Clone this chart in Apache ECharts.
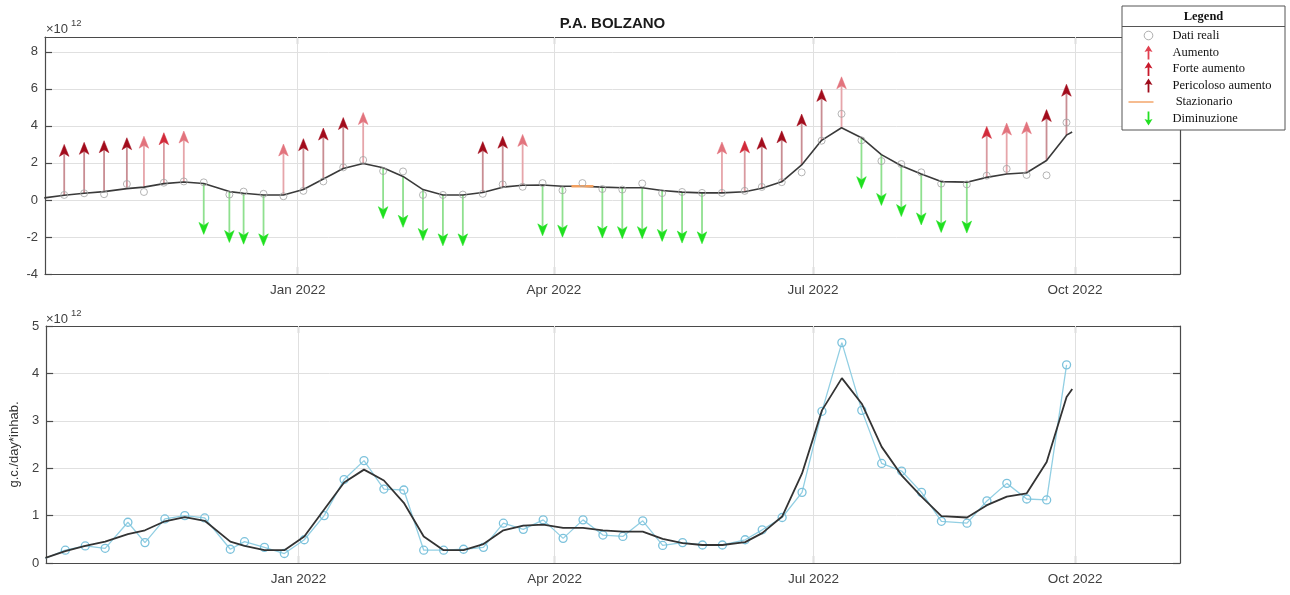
<!DOCTYPE html>
<html><head><meta charset="utf-8">
<script src="https://cdn.jsdelivr.net/npm/echarts@6/dist/echarts.min.js"></script>
<style>html,body{margin:0;padding:0;background:#fff}#c{width:1290px;height:595px}</style>
</head><body><div id="c"></div><script>
// ---------------- DATA ----------------
const dates = ['2021-10-04','2021-10-11','2021-10-18','2021-10-25','2021-11-02','2021-11-08','2021-11-15','2021-11-22','2021-11-29','2021-12-08','2021-12-13','2021-12-20','2021-12-27',
'2022-01-03','2022-01-10','2022-01-17','2022-01-24','2022-01-31','2022-02-07','2022-02-14','2022-02-21','2022-02-28','2022-03-07','2022-03-14','2022-03-21','2022-03-28',
'2022-04-04','2022-04-11','2022-04-18','2022-04-25','2022-05-02','2022-05-09','2022-05-16','2022-05-23','2022-05-30','2022-06-07','2022-06-13','2022-06-20','2022-06-27',
'2022-07-04','2022-07-11','2022-07-18','2022-07-25','2022-08-01','2022-08-08','2022-08-15','2022-08-24','2022-08-31','2022-09-07','2022-09-14','2022-09-21','2022-09-28'];
// measured values (x 10^12 g.c./day*inhab.)
const values = [0.10,0.27,0.36,0.31,0.86,0.43,0.93,1.00,0.95,0.29,0.45,0.33,0.20,
0.49,1.00,1.76,2.16,1.56,1.54,0.27,0.27,0.29,0.33,0.84,0.71,0.91,
0.52,0.91,0.59,0.56,0.89,0.37,0.43,0.38,0.38,0.49,0.70,0.96,1.49,
3.20,4.65,3.22,2.10,1.94,1.49,0.88,0.84,1.31,1.68,1.35,1.33,4.18];
// smoothed trend (x 10^12)
const trendDates = dates.concat(['2022-09-30']);
const trendValues = [0.11,0.25,0.36,0.45,0.61,0.69,0.88,0.97,0.89,0.45,0.36,0.27,0.27,
0.56,1.13,1.70,1.97,1.74,1.27,0.56,0.27,0.27,0.40,0.69,0.79,0.81,
0.74,0.74,0.69,0.66,0.66,0.51,0.42,0.38,0.38,0.44,0.63,0.98,1.89,
3.22,3.90,3.36,2.45,1.85,1.40,0.99,0.96,1.22,1.40,1.47,2.13,3.50,3.67];
// trend class per date: A=Aumento, F=Forte aumento, P=Pericoloso aumento, S=Stazionario, D=Diminuzione, ''=none
const trendClass = ['','P','P','P','P','A','F','A','D','D','D','D','A',
'P','P','P','A','D','D','D','D','D','P','P','A','D',
'D','S','D','D','D','D','D','D','A','F','P','P','P',
'P','A','D','D','D','D','D','D','F','A','A','P','P'];
const xTickDates = ['2022-01-01','2022-04-01','2022-07-01','2022-10-01'];
const monthNames = ['Jan','Feb','Mar','Apr','May','Jun','Jul','Aug','Sep','Oct','Nov','Dec'];

// ---------------- HELPERS ----------------
const ts = s => Date.UTC(+s.slice(0,4), +s.slice(5,7)-1, +s.slice(8,10));
const X_MIN = Date.UTC(2021,9,4,6), X_MAX = Date.UTC(2022,10,6,21);
const xTicks = xTickDates.map(ts);
const ARROW_LEN = 2.75; // arrow glyph length in y-units
const FONT = '"Liberation Sans", Arial, sans-serif';
const SERIF = '"Liberation Serif", "Times New Roman", serif';
const AXIS_COL = '#4a4a4a', LABEL_COL = '#404040', GRID_COL = '#e0e0e0';
const arrowStyles = {
  A:{head:'#e2737d', shaft:'#e6a5aa'},
  F:{head:'#d22a3a', shaft:'#d99aa0'},
  P:{head:'#a20c1c', shaft:'#c98d93'},
  D:{head:'#1fe01f', shaft:'#8fe08f'}
};

function arrowRenderer(st){
  return function(params, api){
    const x = api.value(0), y = api.value(1), d = api.value(2);
    const p0 = api.coord([x, y]);
    const p1 = api.coord([x, y + d*ARROW_LEN]);
    const s = p1[1] < p0[1] ? -1 : 1;
    const hl = 12, hw = 4.8, notch = 3;
    const baseY = p1[1] - s*hl;
    return {type:'group', children:[
      {type:'line', shape:{x1:p0[0], y1:p0[1], x2:p0[0], y2:baseY + s*notch}, style:{stroke:st.shaft, lineWidth:1.8}},
      {type:'polygon', shape:{points:[[p1[0],p1[1]],[p1[0]+hw,baseY],[p1[0],baseY+s*notch],[p1[0]-hw,baseY]]},
       style:{fill:st.head, stroke:st.head, lineWidth:0.5}}
    ]};
  };
}
function stationaryRenderer(params, api){
  const p = api.coord([api.value(0), api.value(1)]);
  return {type:'line', shape:{x1:p[0]-11, y1:p[1], x2:p[0]+11, y2:p[1]}, style:{stroke:'#f2a060', lineWidth:2.5}};
}
function classData(c){
  const out = [];
  dates.forEach((d,i)=>{ if (trendClass[i]===c) out.push([ts(d), trendValues[i], c==='D'?-1:(c==='S'?0:1)]); });
  return out;
}
const obs = dates.map((d,i)=>[ts(d), values[i]]);
const trend = trendDates.map((d,i)=>[ts(d), trendValues[i]]);

function xAxes(gi){
  const lbl = {customValues:xTicks, color:LABEL_COL, fontSize:13.5, fontFamily:FONT, margin:9,
    formatter:v=>{const t=new Date(v); return monthNames[t.getUTCMonth()]+' '+t.getUTCFullYear();}};
  const common = {type:'value', gridIndex:gi, min:X_MIN, max:X_MAX, scale:true, splitLine:{show:false},
    axisLine:{show:true, onZero:false, lineStyle:{color:AXIS_COL, width:1.2}},
    axisTick:{show:true, inside:true, length:7, customValues:xTicks, lineStyle:{color:AXIS_COL, width:1.2}}};
  return [
    Object.assign({}, common, {position:'bottom', axisLabel:lbl}),
    Object.assign({}, common, {position:'top', axisLabel:{show:false}})
  ];
}
function yAxes(gi, min, max, interval, showMax, extra){
  const common = {type:'value', gridIndex:gi, min, max, interval,
    axisLine:{show:true, onZero:false, lineStyle:{color:AXIS_COL, width:1.2}},
    axisTick:{show:true, inside:true, length:7, lineStyle:{color:AXIS_COL, width:1.2}}};
  return [
    Object.assign({}, common, {position:'left',
      axisLabel:{color:LABEL_COL, fontSize:13, fontFamily:FONT, margin:7, showMaxLabel:showMax, showMinLabel:true,
        formatter:v=>(Math.abs(v/interval - Math.round(v/interval))<1e-6 ? String(v) : '')},
      splitLine:{show:true, lineStyle:{color:GRID_COL, width:1}}}, extra||{}),
    Object.assign({}, common, {position:'right', axisLabel:{show:false}, splitLine:{show:false}})
  ];
}
const vGrid = {silent:true, z:1, symbol:['none','none'], label:{show:false}, emphasis:{disabled:true},
  lineStyle:{color:GRID_COL, type:'solid', width:1, opacity:1}, data:xTicks.map(t=>({xAxis:t}))};

// legend icons in a 40x14 frame (icon centre at x=21)
const ICON_BOUNDS = 'M0,0M40,14';
const upIcon = 'path://'+ICON_BOUNDS+'M21,0L25,6.5L21.9,5.6L21.9,14L20.1,14L20.1,5.6L17,6.5Z';
const downIcon = 'path://'+ICON_BOUNDS+'M21,14L25,7.5L21.9,8.4L21.9,0L20.1,0L20.1,8.4L17,7.5Z';
const circIcon = 'path://'+ICON_BOUNDS+'M25.3,7A4.3,4.3,0,1,1,16.7,7A4.3,4.3,0,1,1,25.3,7Z';
const lineIcon = 'path://'+ICON_BOUNDS+'M1,6.3L26,6.3L26,7.7L1,7.7Z';

const chart = echarts.init(document.getElementById('c'), null, {renderer:'canvas'});
chart.setOption({
  animation:false,
  backgroundColor:'#ffffff',
  grid:[
    {left:45, right:110, top:37, height:237},
    {left:45, right:110, top:326, height:237}
  ],
  xAxis:[...xAxes(0), ...xAxes(1)],
  yAxis:[...yAxes(0,-4,8.8,2,false), ...yAxes(1,0,5,1,true,{name:'g.c./day*inhab.', nameLocation:'middle', nameGap:21,
    nameTextStyle:{color:'#333', fontSize:13, fontFamily:FONT}})],
  legend:{
    orient:'vertical', left:1127, top:28, padding:0, itemGap:2.5, itemWidth:40, itemHeight:14,
    selectedMode:false, z:6,
    textStyle:{fontFamily:SERIF, fontSize:12.5, color:'#111'},
    data:[
      {name:'Dati reali', icon:circIcon, itemStyle:{color:'rgba(255,255,255,0)', borderColor:'#9a9a9a', borderWidth:1}},
      {name:'Aumento', icon:upIcon, itemStyle:{color:'#e04050', borderWidth:0}},
      {name:'Forte aumento', icon:upIcon, itemStyle:{color:'#c8192b', borderWidth:0}},
      {name:'Pericoloso aumento', icon:upIcon, itemStyle:{color:'#9e0a1a', borderWidth:0}},
      {name:' Stazionario', icon:lineIcon, itemStyle:{color:'#f2a060', borderWidth:0}},
      {name:'Diminuzione', icon:downIcon, itemStyle:{color:'#22e022', borderWidth:0}}
    ]
  },
  graphic:[
    {type:'rect', z:3, shape:{x:1122, y:6, width:163, height:124}, style:{fill:'#fff', stroke:'#555', lineWidth:1}},
    {type:'line', z:5, shape:{x1:1122, y1:26.5, x2:1285, y2:26.5}, style:{stroke:'#555', lineWidth:1}},
    {type:'text', z:5, x:1203.5, y:16.5, style:{text:'Legend', fontFamily:SERIF, fontWeight:'bold', fontSize:12.5, fill:'#111', align:'center', verticalAlign:'middle'}},
    {type:'text', z:5, x:612.5, y:23.5, style:{text:'P.A. BOLZANO', fontFamily:FONT, fontWeight:'bold', fontSize:15, fill:'#1a1a1a', align:'center', verticalAlign:'middle'}},
    {type:'text', z:5, x:46, y:29, style:{text:'×10', fontFamily:FONT, fontSize:13, fill:LABEL_COL, align:'left', verticalAlign:'middle'}},
    {type:'text', z:5, x:71, y:23, style:{text:'12', fontFamily:FONT, fontSize:9.5, fill:LABEL_COL, align:'left', verticalAlign:'middle'}},
    {type:'text', z:5, x:46, y:319, style:{text:'×10', fontFamily:FONT, fontSize:13, fill:LABEL_COL, align:'left', verticalAlign:'middle'}},
    {type:'text', z:5, x:71, y:313, style:{text:'12', fontFamily:FONT, fontSize:9.5, fill:LABEL_COL, align:'left', verticalAlign:'middle'}}
  ],
  series:[
    {name:'Aumento', type:'custom', xAxisIndex:0, yAxisIndex:0, z:2, encode:{x:0,y:1}, itemStyle:{color:arrowStyles.A.head},
      renderItem:arrowRenderer(arrowStyles.A), data:classData('A'), silent:true},
    {name:'Forte aumento', type:'custom', xAxisIndex:0, yAxisIndex:0, z:2, encode:{x:0,y:1}, itemStyle:{color:arrowStyles.F.head},
      renderItem:arrowRenderer(arrowStyles.F), data:classData('F'), silent:true},
    {name:'Pericoloso aumento', type:'custom', xAxisIndex:0, yAxisIndex:0, z:2, encode:{x:0,y:1}, itemStyle:{color:arrowStyles.P.head},
      renderItem:arrowRenderer(arrowStyles.P), data:classData('P'), silent:true},
    {name:' Stazionario', type:'custom', xAxisIndex:0, yAxisIndex:0, z:4, encode:{x:0,y:1}, itemStyle:{color:'#f2a060'},
      renderItem:stationaryRenderer, data:classData('S'), silent:true},
    {name:'Diminuzione', type:'custom', xAxisIndex:0, yAxisIndex:0, z:2, encode:{x:0,y:1}, itemStyle:{color:arrowStyles.D.head},
      renderItem:arrowRenderer(arrowStyles.D), data:classData('D'), silent:true},
    {type:'line', xAxisIndex:0, yAxisIndex:0, z:3, data:trend, symbol:'none', silent:true,
      lineStyle:{color:'#3a3a3a', width:1.6}, markLine:vGrid},
    {name:'Dati reali', type:'scatter', xAxisIndex:0, yAxisIndex:0, z:5, data:obs, symbol:'circle', symbolSize:7, silent:true,
      itemStyle:{color:'rgba(255,255,255,0)', borderColor:'#a3a3a3', borderWidth:1}},
    {type:'line', xAxisIndex:2, yAxisIndex:2, z:2, data:obs, symbol:'circle', symbolSize:8, showAllSymbol:true, silent:true,
      lineStyle:{color:'#92cfe3', width:1.3}, itemStyle:{color:'rgba(255,255,255,0)', borderColor:'#7cc2dc', borderWidth:1.3}},
    {type:'line', xAxisIndex:2, yAxisIndex:2, z:3, data:trend, symbol:'none', silent:true,
      lineStyle:{color:'#333333', width:1.8}, markLine:vGrid}
  ]
});
</script></body></html>
